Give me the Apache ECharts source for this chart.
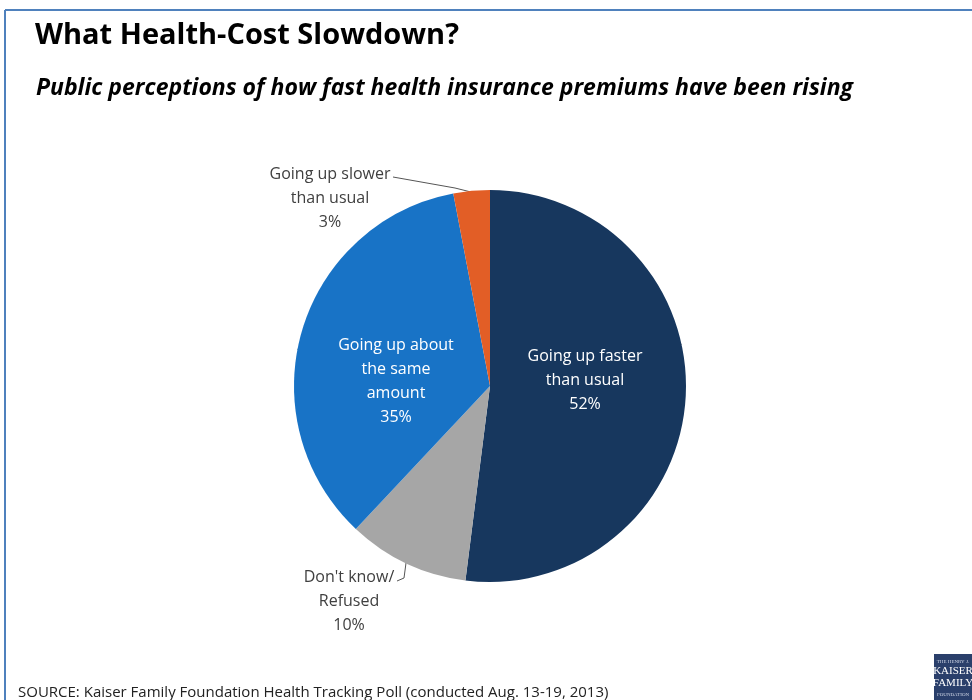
<!DOCTYPE html>
<html><head><meta charset="utf-8">
<script src="https://cdn.jsdelivr.net/npm/echarts@6/dist/echarts.min.js"></script>
<style>html,body{margin:0;padding:0;background:#fff}#c{width:972px;height:700px}</style>
</head><body><div id="c"></div>
<script>
const categories = ["Going up faster\nthan usual", "Don't know/\nRefused", "Going up about\nthe same\namount", "Going up slower\nthan usual"];
const values = [52, 10, 35, 3];
const colors = ["#17375E", "#A6A6A6", "#1873C6", "#E25E26"];

const FONT = "'Open Sans',sans-serif";
const chart = echarts.init(document.getElementById('c'));
const data = categories.map((name, i) => ({ name, value: values[i], itemStyle: { color: colors[i] } }));
data[0].label = { position: 'inside', color: '#fff' };
data[2].label = { position: 'inside', color: '#fff' };
data[1].label = { position: 'outside', color: '#404040' };
data[3].label = { position: 'outside', color: '#404040' };

chart.setOption({
  animation: false,
  title: [
    { text: 'What Health-Cost Slowdown?', left: 30, top: 16, textStyle: { fontFamily: FONT, fontWeight: 'bold', fontSize: 29, color: '#000' } },
    { text: 'Public perceptions of how fast health insurance premiums have been rising', left: 31, top: 72, textStyle: { fontFamily: FONT, fontWeight: 'bold', fontStyle: 'italic', fontSize: 23, color: '#000' } },
    { text: 'SOURCE: Kaiser Family Foundation Health Tracking Poll (conducted Aug. 13-19, 2013)', left: 13, top: 680, textStyle: { fontFamily: FONT, fontWeight: 'normal', fontSize: 15, color: '#222' } }
  ],
  graphic: [
    { type: 'line', shape: { x1: 5, y1: 10, x2: 972, y2: 10 }, style: { stroke: '#4F81BD', lineWidth: 2 } },
    { type: 'line', shape: { x1: 5, y1: 10, x2: 5, y2: 700 }, style: { stroke: '#4F81BD', lineWidth: 2 } },
    { type: 'rect', shape: { x: 934, y: 654, width: 40, height: 46 }, style: { fill: '#2A3F6B' } },
    { type: 'text', x: 953, y: 659, style: { text: 'THE HENRY J.', fill: '#cfd6e6', fontSize: 5, align: 'center', fontFamily: 'Liberation Serif' } },
    { type: 'text', x: 953, y: 666, style: { text: 'KAISER', fill: '#fff', fontSize: 11, align: 'center', fontFamily: 'Liberation Serif' } },
    { type: 'text', x: 953, y: 678, style: { text: 'FAMILY', fill: '#fff', fontSize: 11, align: 'center', fontFamily: 'Liberation Serif' } },
    { type: 'text', x: 953, y: 692, style: { text: 'FOUNDATION', fill: '#cfd6e6', fontSize: 5, align: 'center', fontFamily: 'Liberation Serif' } }
  ],
  series: [{
    type: 'pie',
    center: [490, 386],
    radius: [0, 196],
    startAngle: 90,
    clockwise: true,
    data: data,
    itemStyle: { borderWidth: 0 },
    label: {
      fontFamily: FONT, fontSize: 16, lineHeight: 24, align: 'center',
      formatter: p => p.name + '\n' + p.value + '%'
    },
    labelLine: { show: true, length: 10, length2: 10, lineStyle: { color: '#555', width: 1 } },
    labelLayout: function (params) {
      const i = params.dataIndex;
      if (i === 0) return { x: 585, y: 380, align: 'center', verticalAlign: 'middle' };
      if (i === 2) return { x: 396, y: 381, align: 'center', verticalAlign: 'middle' };
      if (i === 3) return { x: 330, y: 198, align: 'center', verticalAlign: 'middle',
        labelLinePoints: [[393, 177], [455, 188], [471, 192]] };
      if (i === 1) return { x: 349, y: 601, align: 'center', verticalAlign: 'middle',
        labelLinePoints: [[406, 563], [404, 578], [397, 581]] };
    }
  }]
});
</script></body></html>
